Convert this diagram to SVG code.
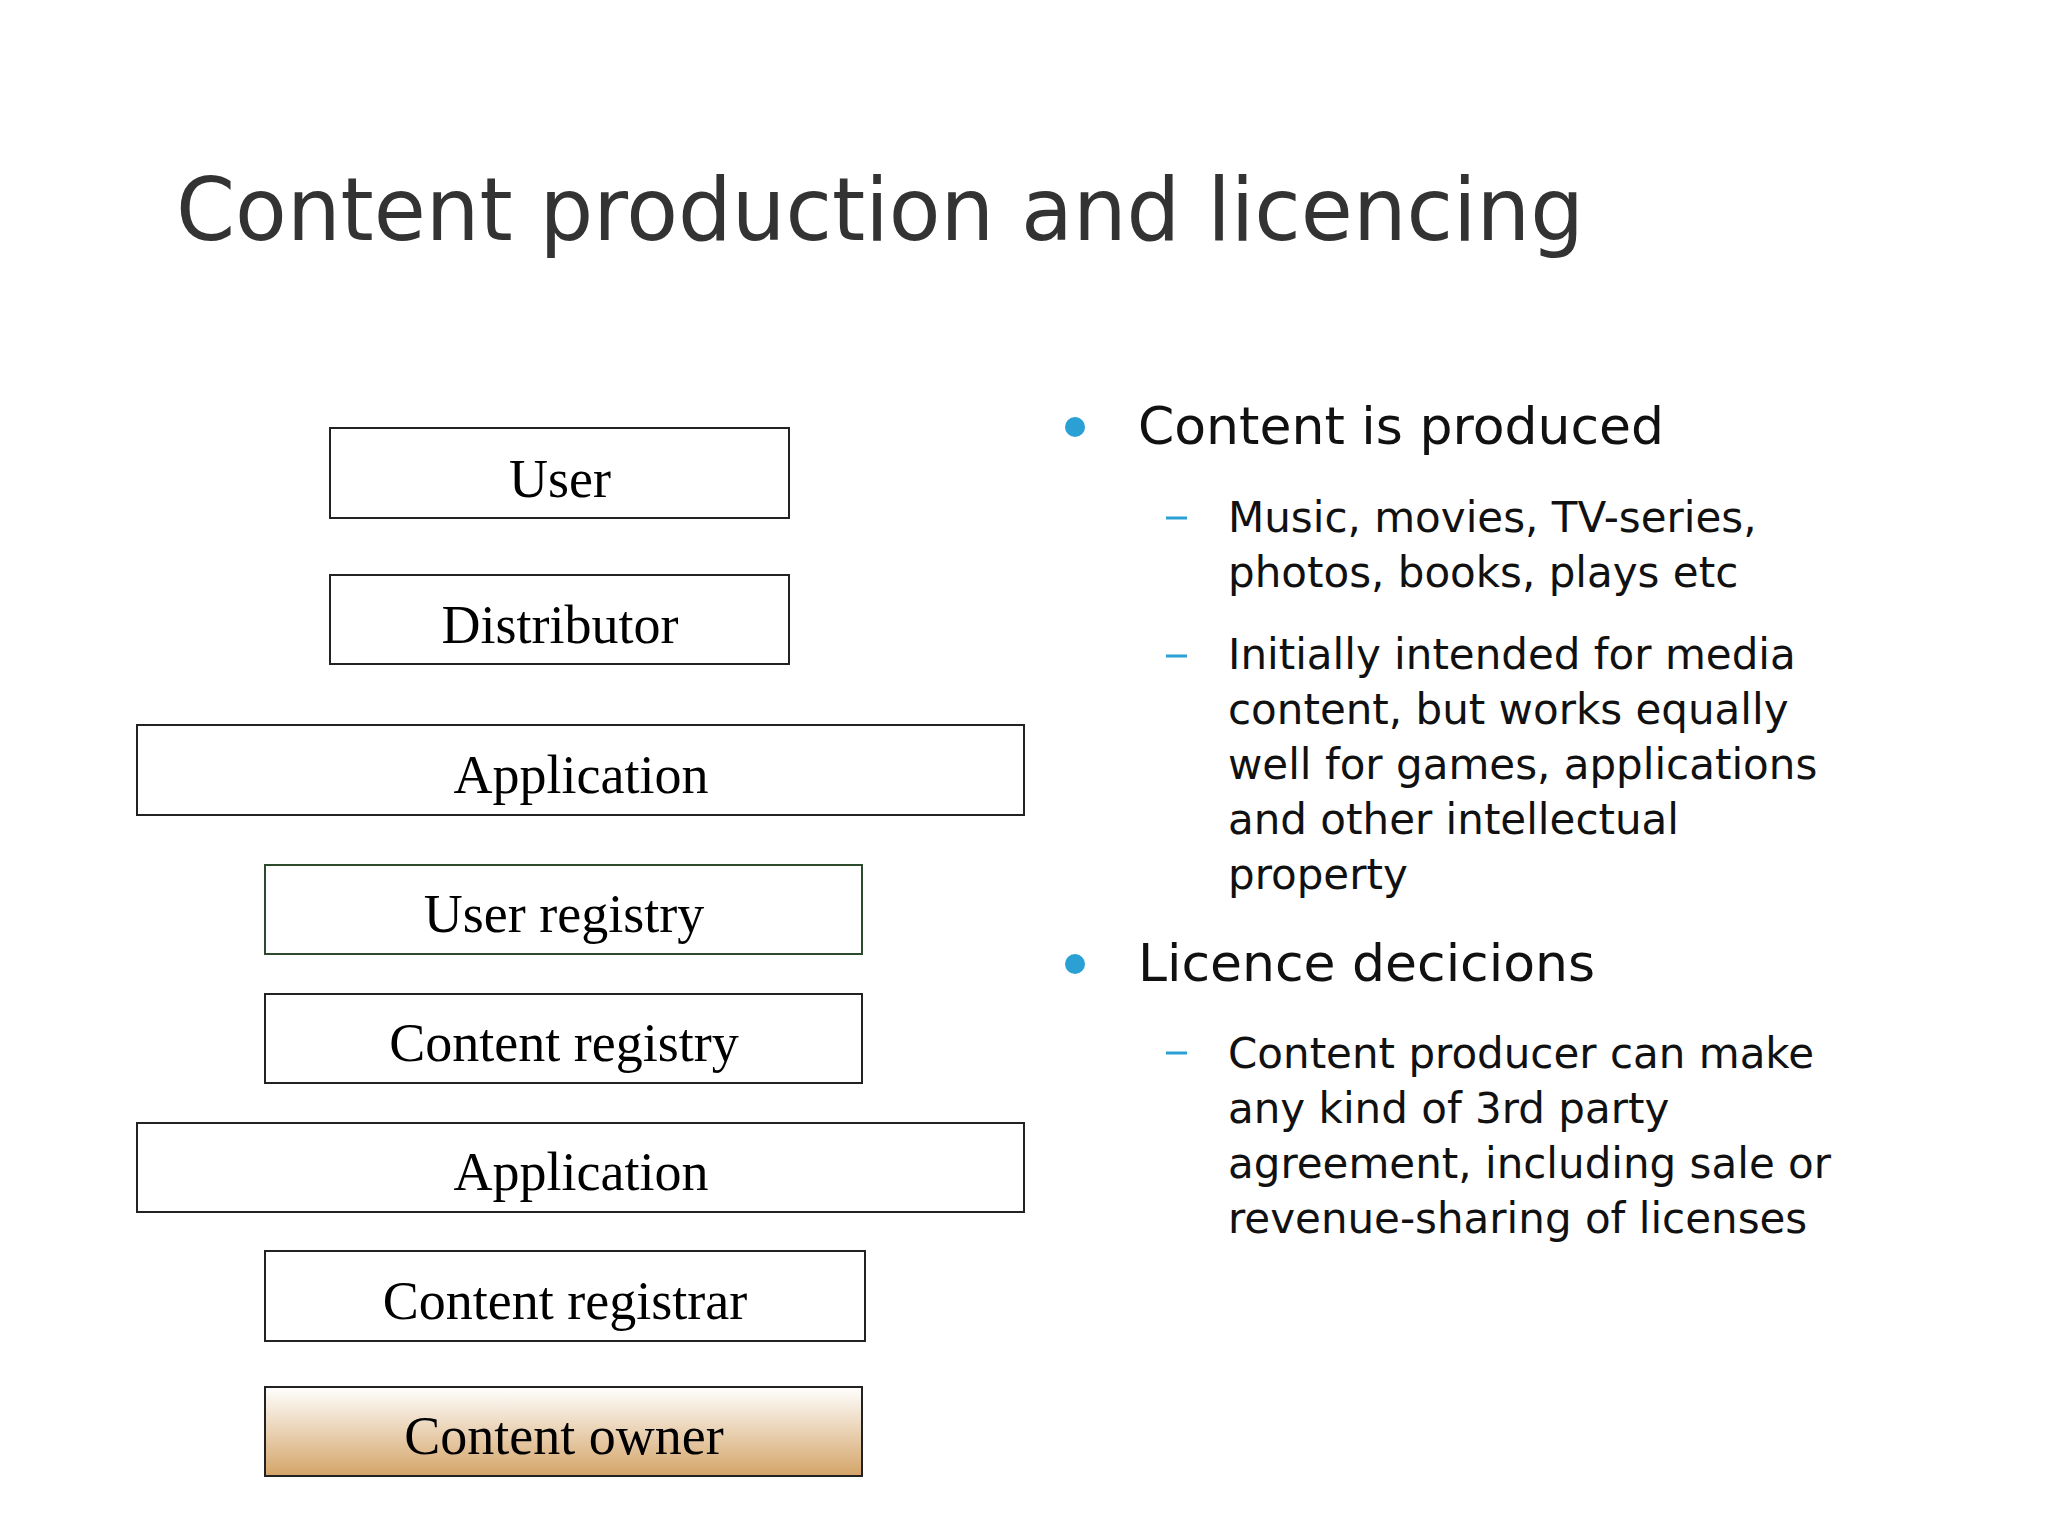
<svg xmlns="http://www.w3.org/2000/svg" width="2048" height="1536" viewBox="0 0 2048 1536">
<style>
.b{fill:#fff;stroke:#222;stroke-width:2}
.t{font-family:"Liberation Serif",serif;font-size:54px;fill:#000;text-anchor:middle}
.s{font-family:"DejaVu Sans","Verdana",sans-serif;fill:#111}
.h{font-size:52px}
.m{font-size:42px}
.d{stroke:#2aa0d4;stroke-width:3}
</style>
<defs><linearGradient id="g" x1="0" y1="0" x2="0" y2="1"><stop offset="0" stop-color="#fff"/><stop offset="1" stop-color="#d4a468"/></linearGradient></defs>
<rect width="2048" height="1536" fill="#fff"/>
<text x="176" y="240" class="s" font-size="88" fill="#333" style="fill:#333" textLength="1408" lengthAdjust="spacingAndGlyphs">Content production and licencing</text>
<g id="user"><rect class="b" x="330" y="428" width="459" height="90"/><text class="t" x="560" y="497">User</text></g>
<g id="distributor"><rect class="b" x="330" y="575" width="459" height="89"/><text class="t" x="560" y="643">Distributor</text></g>
<g id="application1"><rect class="b" x="137" y="725" width="887" height="90"/><text class="t" x="581" y="793">Application</text></g>
<g id="userregistry"><rect class="b" style="stroke:#2d4a2d" x="265" y="865" width="597" height="89"/><text class="t" x="564" y="932">User registry</text></g>
<g id="contentregistry"><rect class="b" x="265" y="994" width="597" height="89"/><text class="t" x="564" y="1061">Content registry</text></g>
<g id="application2"><rect class="b" x="137" y="1123" width="887" height="89"/><text class="t" x="581" y="1190">Application</text></g>
<g id="contentregistrar"><rect class="b" x="265" y="1251" width="600" height="90"/><text class="t" x="565" y="1319">Content registrar</text></g>
<g id="contentowner"><rect class="b" style="fill:url(#g)" x="265" y="1387" width="597" height="89"/><text class="t" x="564" y="1454">Content owner</text></g>
<g id="connectors"></g>
<g id="bullets">
<circle cx="1075" cy="427" r="10" fill="#2aa0d4"/>
<text class="s h" x="1138" y="444">Content is produced</text>
<line class="d" x1="1166" y1="518" x2="1187" y2="518"/>
<text class="s m" x="1228" y="532">Music, movies, TV-series,</text>
<text class="s m" x="1228" y="587">photos, books, plays etc</text>
<line class="d" x1="1166" y1="656" x2="1187" y2="656"/>
<text class="s m" x="1228" y="669">Initially intended for media</text>
<text class="s m" x="1228" y="724">content, but works equally</text>
<text class="s m" x="1228" y="779">well for games, applications</text>
<text class="s m" x="1228" y="834">and other intellectual</text>
<text class="s m" x="1228" y="889">property</text>
<circle cx="1075" cy="964" r="10" fill="#2aa0d4"/>
<text class="s h" x="1138" y="981">Licence decicions</text>
<line class="d" x1="1166" y1="1053" x2="1187" y2="1053"/>
<text class="s m" x="1228" y="1068">Content producer can make</text>
<text class="s m" x="1228" y="1123">any kind of 3rd party</text>
<text class="s m" x="1228" y="1178">agreement, including sale or</text>
<text class="s m" x="1228" y="1233">revenue-sharing of licenses</text>
</g>
</svg>
